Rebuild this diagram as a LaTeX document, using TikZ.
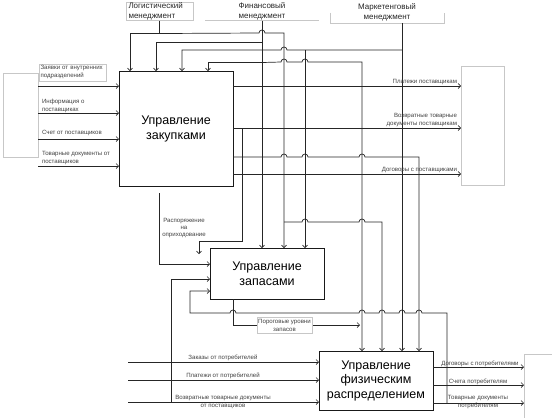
\documentclass[tikz,border=0pt]{standalone}
\usepackage{fontspec}
\setmainfont{Liberation Sans}
\usetikzlibrary{arrows.meta,calc}

\begin{document}
\begin{tikzpicture}[
    x=1pt, y=-1pt,
    every node/.style={inner sep=0pt, outer sep=0pt, text=black!75, font=\fontsize{6.1}{8}\selectfont},
    procbox/.style={draw=black!90, line width=1pt, minimum width=114pt, text=black, align=center, font=\fontsize{12.5}{15}\selectfont},
    tagbox/.style={draw=black!22, fill=white},
    headlabel/.style={text=black!85, align=center, font=\fontsize{8}{10.5}\selectfont},
    flow/.style={draw=black!85, line width=0.7pt, -{Straight Barb[length=2.5pt,width=5pt]}},
    link/.style={draw=black!85, line width=0.7pt}
]
\useasboundingbox (0,0) rectangle (552,418);

% function boxes
\node[procbox, minimum height=115pt] (zak) at (176,128.5) {Управление\\закупками};
\node[procbox, minimum height=51pt] (zap) at (267,273.5) {Управление\\запасами};
\node[procbox, minimum height=59pt, font=\fontsize{12.5}{14.5}\selectfont] (fiz) at (376,380.5) {Управление\\физическим\\распределением};

% outer frames
\node[draw=black!22, minimum width=35pt, minimum height=84pt] (vkh) at (20.5,115) {};
\node[draw=black!22, minimum width=43pt, minimum height=119pt] (vyh) at (482.5,125.5) {};
\node[minimum width=40pt, minimum height=70pt] (pot) at (544,389) {};
\draw[black!22] (pot.south west) |- (pot.north east);

% management
\node[headlabel, tagbox, minimum width=67pt, minimum height=18pt, text width=62pt, align=left] (lm) at (159.5,11.5) {Логистический\\менеджмент};
\node[headlabel, minimum width=114pt, minimum height=18pt] (fm) at (262,11.5) {Финансовый\\менеджмент};
\draw[black!22] (fm.south west) -- (fm.south east);
\node[headlabel, minimum width=114pt, minimum height=21pt] (mm) at (387,12.5) {Маркетенговый\\менеджмент};
\draw[black!22] (mm.west) |- (mm.south east) -- (mm.east);

\coordinate (lmj) at ($(lm.south)+(0,13)$);
\coordinate (lmr) at ($(zap.north west)+(74,-26)$);
\coordinate (fmg) at ($(fm.south)+(0,22)$);
\coordinate (fmt) at ($(fm.south)+(0,42)$);
\coordinate (mmj) at ($(mm.south)+(15,27)$);
\coordinate (mmz) at ($(mm.south)+(-82,27)$);

% logistics
\draw[link] (lm.south) -- (lmj);
\draw[flow] (lmj) -| ($(zak.north west)+(11,0)$);
\draw[flow] (lmj) -- (259,33) arc[start angle=180, end angle=0, radius=3pt] -- (284,33) -- ($(zap.north west)+(74,0)$);
\draw[flow] (lmr) -- (302,222) arc[start angle=180, end angle=0, radius=3pt] -- (359,222) arc[start angle=180, end angle=0, radius=3pt] -- (382,222) -- ($(fiz.north west)+(63,0)$);

% finance
\draw[flow] (fm.south) -- ($(zap.north west)+(52,0)$);
\draw[flow] (fmg) -| ($(zak.north west)+(37,0)$);
\draw[flow] (fmt) -| ($(zak.north west)+(89,0)$);
\draw[flow] (fmt) -- (281,62) arc[start angle=180, end angle=0, radius=3pt] -- (302,62) arc[start angle=180, end angle=0, radius=3pt] -- (362,62) -- ($(fiz.north west)+(43,0)$);

% marketing
\draw[flow] ($(mm.south)+(15,0)$) -- ($(fiz.north west)+(83,0)$);
\draw[flow] (mmj) -- (287,50) arc[start angle=0, end angle=180, radius=3pt] -- (281,50) -| ($(zak.north west)+(63,0)$);
\draw[flow] (mmz) -- ($(zap.north west)+(95,0)$);

% purchasing inputs
\coordinate (zi1) at ($(zak.north west)+(0,15)$);
\coordinate (zi2) at ($(zak.north west)+(0,42)$);
\coordinate (zi3) at ($(zak.north west)+(0,68)$);
\coordinate (zi4) at ($(zak.north west)+(0,95)$);
\draw[flow] (zi1 -| vkh.east) -- (zi1);
\draw[flow] (zi2 -| vkh.east) -- (zi2);
\draw[flow] (zi3 -| vkh.east) -- (zi3);
\draw[flow] (zi4 -| vkh.east) -- (zi4);
\node[tagbox, minimum width=67pt, minimum height=17pt, text width=64pt, align=left] (zvk) at (72.5,72.5) {Заявки от внутренних\\подразделений};
\node[anchor=west, align=left] (inf) at (42,105.5) {Информация о\\поставщиках};
\node[anchor=west] (sch) at (42,133) {Счет от поставщиков};
\node[anchor=west, align=left] (tdp) at (42,158) {Товарные документы от\\поставщиков};

% purchasing outputs
\coordinate (zo1) at ($(zak.north east)+(0,15)$);
\coordinate (zo2) at ($(zak.north east)+(0,57)$);
\coordinate (zo3) at ($(zak.north east)+(0,86)$);
\coordinate (zo4) at ($(zak.north east)+(0,103)$);
\draw[flow] (zo1) -- (zo1 -| vyh.west) node[anchor=south east, xshift=-4pt, yshift=1.5pt] (plp) {Платежи поставщикам};
\draw[flow] (zo2) -- (zo2 -| vyh.west) node[anchor=south east, align=right, xshift=-4pt, yshift=1pt] (vtp) {Возвратные товарные\\документы поставщикам};
\draw[flow] (zo3) -- (281,157) arc[start angle=180, end angle=0, radius=3pt] -- (302,157) arc[start angle=180, end angle=0, radius=3pt] -- (359,157) arc[start angle=180, end angle=0, radius=3pt] -- (419,157) -- ($(fiz.north west)+(100,0)$);
\draw[flow] (zo4) -- (zo4 -| vyh.west) node[anchor=south east, xshift=-4pt, yshift=1.5pt] (dgp) {Договоры с поставщиками};
\draw[flow] ($(zo2)+(9,0)$) -- ++(0,113) -| ++(-43,13);

% order to stock
\draw[flow] ($(zak.south west)+(40,7)$) |- ($(zap.north west)+(0,16)$);
\node[align=center, font=\fontsize{6.1}{7}\selectfont] (rsp) at (184,228) {Распоряжение\\на\\оприходование};

% distribution inputs
\coordinate (pi1) at ($(fiz.north west)+(0,11)$);
\coordinate (pi2) at ($(fiz.north west)+(0,29)$);
\coordinate (pi3) at ($(fiz.north west)+(0,51)$);
\coordinate (vtj) at ($(pi3)+(-148,0)$);
\draw[flow] ($(pi1)+(-191,0)$) -- (pi1);
\draw[flow] ($(pi2)+(-191,0)$) -- (pi2);
\draw[flow] ($(pi3)+(-191,0)$) -- (pi3);
\draw[flow] (vtj) |- ($(zap.north west)+(0,31)$);
\node (zkp) at (223,358) {Заказы от потребителей};
\node (plt) at (223,376) {Платежи от потребителей};
\node[align=center] (vtd) at (223,402) {Возвратные товарные документы\\от поставщиков};

% distribution outputs
\coordinate (fo1) at ($(fiz.north east)+(0,16)$);
\coordinate (fo2) at ($(fiz.north east)+(0,34)$);
\coordinate (fo3) at ($(fiz.north east)+(0,52)$);
\draw[flow] (fo1) -- (fo1 -| pot.west);
\draw[flow] (fo2) -- (fo2 -| pot.west);
\draw[flow] (fo3) -- (fo3 -| pot.west);
\draw[flow] ($(fo3)+(14,0)$) -- ++(0,-90) -- (422,313) arc[start angle=0, end angle=180, radius=3pt] -- (405,313) arc[start angle=0, end angle=180, radius=3pt] -- (385,313) arc[start angle=0, end angle=180, radius=3pt] -- (365,313) arc[start angle=0, end angle=180, radius=3pt] -- (236,313) arc[start angle=0, end angle=180, radius=3pt] -- (190,313) |- ($(zap.north west)+(0,43)$);
\node (dgt) at (480,364) {Договоры с потребителями};
\node (sct) at (478,382) {Счета потребителям};
\node[align=center] (tdt) at (478,402) {Товарные документы\\потребителям};

% stock thresholds
\draw[flow] ($(zap.south west)+(23,0)$) |- ($(fiz.north west)+(41,-26)$);
\node[tagbox, align=center, minimum width=55pt, minimum height=16pt] (por) at (284.5,325) {Пороговые уровни\\запасов};

\end{tikzpicture}
\end{document}
